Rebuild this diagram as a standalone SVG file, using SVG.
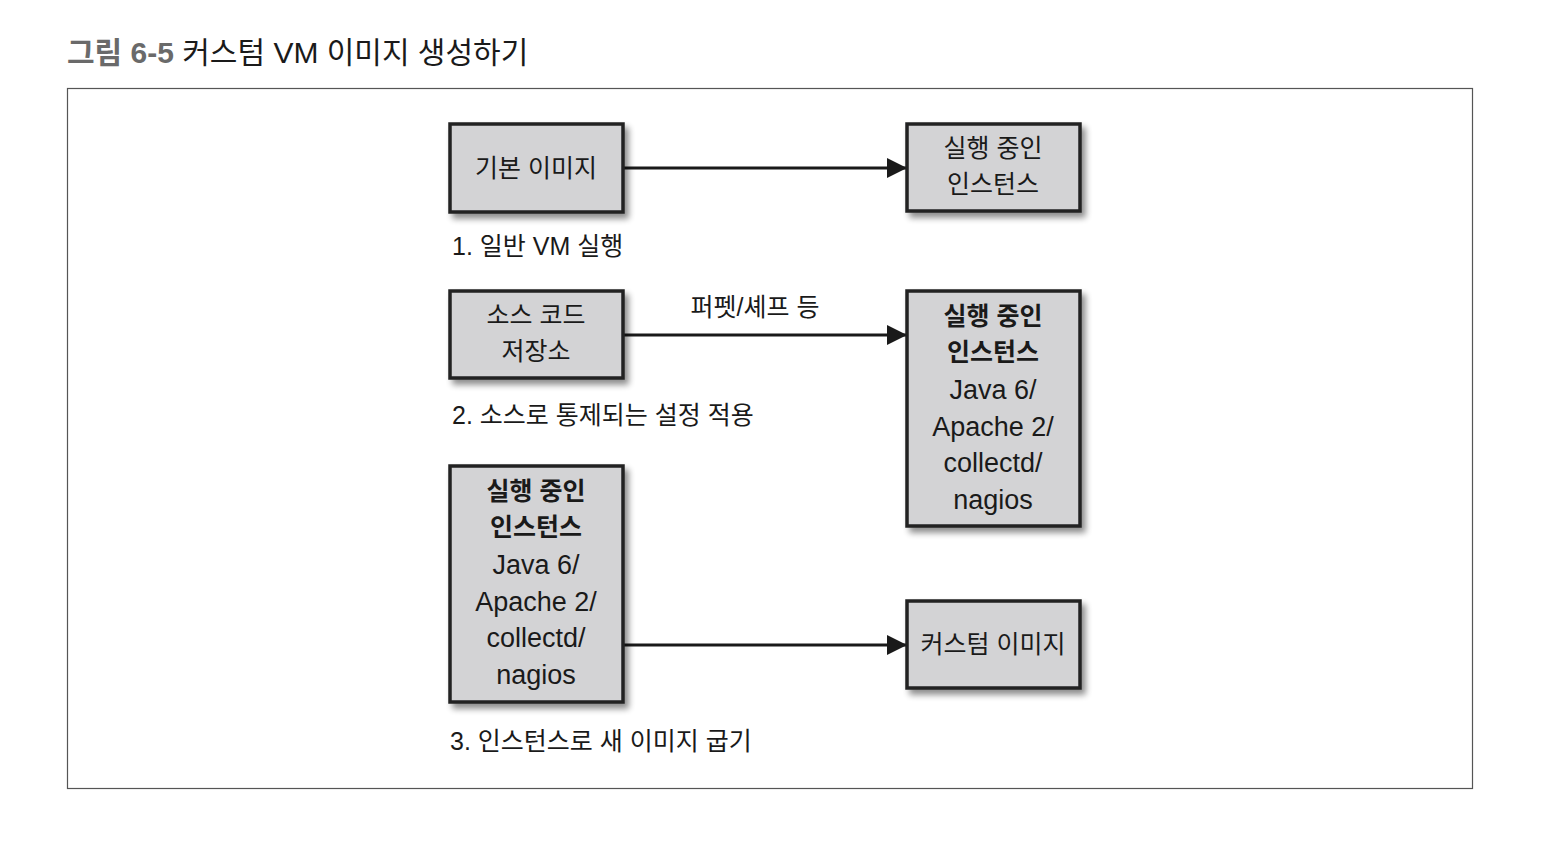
<svg xmlns="http://www.w3.org/2000/svg" width="1548" height="865" viewBox="0 0 1548 865">
<style>
.t{font-family:"Liberation Sans","Noto Sans CJK KR",sans-serif;fill:#1a1a1a}
.k{font-size:25px}
.l{font-size:27px}
.c{text-anchor:middle}
.b{font-weight:bold}
.box{fill:#d3d3d5;stroke:#222;stroke-width:3.5}
.ln{stroke:#1a1a1a;stroke-width:3;fill:none}
</style>
<defs>
<filter id="sh" x="-20%" y="-20%" width="150%" height="150%">
<feGaussianBlur in="SourceAlpha" stdDeviation="3"/>
<feOffset dx="4" dy="5" result="o"/>
<feComponentTransfer><feFuncA type="linear" slope="0.45"/></feComponentTransfer>
<feMerge><feMergeNode/><feMergeNode in="SourceGraphic"/></feMerge>
</filter>
<marker id="ah" markerWidth="20" markerHeight="20" refX="20" refY="10" orient="auto" markerUnits="userSpaceOnUse">
<path d="M0,0 L20,10 L0,20 Z" fill="#1a1a1a"/>
</marker>
</defs>
<rect width="1548" height="865" fill="#fff"/>
<g id="title">
<text x="67" y="63" class="t" style="font-size:30px"><tspan style="font-weight:bold;fill:#6a6a6a">그림 6-5</tspan> 커스텀 VM 이미지 생성하기</text>
</g>
<rect id="frame" x="67.5" y="88.5" width="1405" height="700" fill="none" stroke="#555" stroke-width="1.2"/>
<g id="connectors">
<line class="ln" x1="623" y1="168" x2="907" y2="168" marker-end="url(#ah)"/>
<line class="ln" x1="623" y1="335" x2="907" y2="335" marker-end="url(#ah)"/>
<line class="ln" x1="623" y1="645" x2="907" y2="645" marker-end="url(#ah)"/>
<text x="755" y="316" class="t k c">퍼펫/셰프 등</text>
</g>
<g id="n1">
<rect class="box" x="450" y="124" width="173" height="88" filter="url(#sh)"/>
<text x="536" y="177" class="t k c">기본 이미지</text>
</g>
<g id="n2">
<rect class="box" x="907" y="124" width="173" height="87" filter="url(#sh)"/>
<text x="993" y="157" class="t k c">실행 중인</text>
<text x="993" y="193" class="t k c">인스턴스</text>
</g>
<text id="lbl1" x="452" y="255" class="t k">1. 일반 VM 실행</text>
<g id="n3">
<rect class="box" x="450" y="291" width="173" height="87" filter="url(#sh)"/>
<text x="536" y="324" class="t k c">소스 코드</text>
<text x="536" y="360" class="t k c">저장소</text>
</g>
<g id="n4">
<rect class="box" x="907" y="291" width="173" height="235" filter="url(#sh)"/>
<text x="993" y="325" class="t k c b">실행 중인</text>
<text x="993" y="361" class="t k c b">인스턴스</text>
<text x="993" y="399" class="t l c">Java 6/</text>
<text x="993" y="436" class="t l c">Apache 2/</text>
<text x="993" y="472" class="t l c">collectd/</text>
<text x="993" y="509" class="t l c">nagios</text>
</g>
<text id="lbl2" x="452" y="424" class="t k">2. 소스로 통제되는 설정 적용</text>
<g id="n5">
<rect class="box" x="450" y="466" width="173" height="236" filter="url(#sh)"/>
<text x="536" y="500" class="t k c b">실행 중인</text>
<text x="536" y="536" class="t k c b">인스턴스</text>
<text x="536" y="574" class="t l c">Java 6/</text>
<text x="536" y="611" class="t l c">Apache 2/</text>
<text x="536" y="647" class="t l c">collectd/</text>
<text x="536" y="684" class="t l c">nagios</text>
</g>
<g id="n6">
<rect class="box" x="907" y="601" width="173" height="87" filter="url(#sh)"/>
<text x="993" y="653" class="t k c">커스텀 이미지</text>
</g>
<text id="lbl3" x="450" y="750" class="t k">3. 인스턴스로 새 이미지 굽기</text>
</svg>
